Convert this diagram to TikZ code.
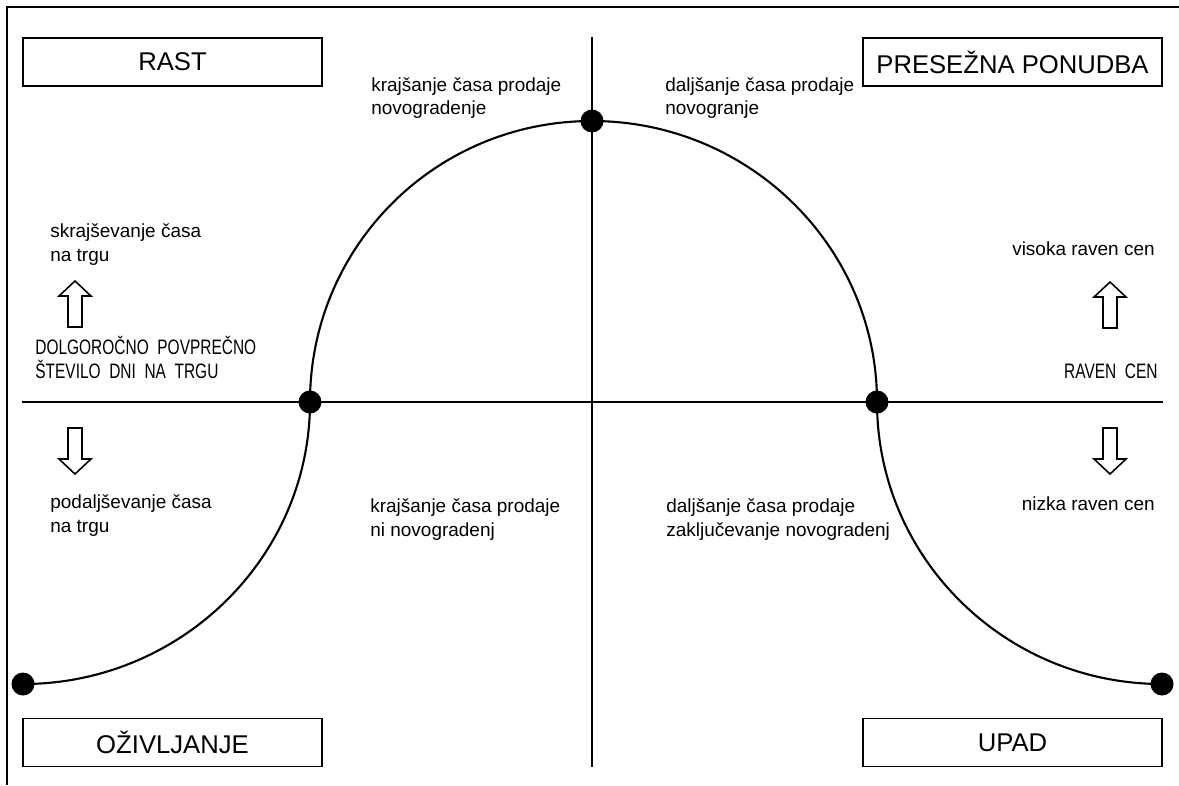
\documentclass[tikz,border=0pt]{standalone}
\usepackage{fontspec}
\setmainfont{Liberation Sans}
\newfontfamily\cadfont[FakeStretch=0.74]{Liberation Sans}
\usepackage{tikz}
\usetikzlibrary{positioning}

\begin{document}
\begin{tikzpicture}[
  x=0.02cm, y=-0.02cm,
  phase/.style={draw, line width=0.7pt, minimum width=5.98cm, minimum height=0.96cm,
                inner sep=0pt, font=\fontsize{14.6}{16}\selectfont},
  note/.style={align=left, inner sep=0pt, font=\fontsize{10.8}{13.6}\selectfont},
  cad/.style={align=left, inner sep=0pt, font=\cadfont\fontsize{11.9}{13.6}\selectfont},
  dot/.style={circle, fill=black, inner sep=0pt, minimum size=0.46cm},
  axis/.style={line width=0.7pt},
  curve/.style={line width=1.2pt},
  frame/.style={line width=1.7pt},
  hollow/.pic={\draw[line width=0.9pt, line join=miter]
    (0,0) -- (16,15) -- (7,15) -- (7,46) -- (-7,46) -- (-7,15) -- (-16,15) -- cycle;}
]
\useasboundingbox (0,0) rectangle (1179,785);

\draw[frame] (7,785) -- (7,7) -- (1179,7);

% phase boxes
\foreach \x/\y/\nm/\lbl in {172.5/62/rast/RAST, 1012.5/62/ponudba/PRESEŽNA PONUDBA,
                           172.5/742.5/ozivljanje/OŽIVLJANJE, 1012.5/742.5/upad/UPAD}{
  \node[phase] (\nm) at (\x,\y) {\lbl};
}

% points of the cycle
\node[dot] (d1) at (23,684) {};
\node[dot] (d2) at (310,402) {};
\node[dot] (d3) at (592,121) {};
\node[dot] (d4) at (877,402) {};
\node[dot] (d5) at (1162,684) {};

\draw[axis] (rast.west |- d2) -- (ponudba.east |- d2);
\draw[axis] (d3 |- rast.north) -- (d3 |- ozivljanje.south);

\draw[curve] (d1.center) .. controls +(157,0) and +(0,156) .. (d2.center)
                         .. controls +(0,-155) and +(-157,0) .. (d3.center)
                         .. controls +(157,0) and +(0,-155) .. (d4.center)
                         .. controls +(0,156) and +(-157,0) .. (d5.center);

% texts (base = last line)
\node[note, anchor=base west, font=\fontsize{10.8}{13}\selectfont] (topl) at (371,114) {krajšanje časa prodaje\\novogradenje};
\node[note, anchor=base west, font=\fontsize{10.8}{13}\selectfont] (topr) at (665,114) {daljšanje časa prodaje\\novogranje};
\node[note, anchor=base west] (botl) at (370,536) {krajšanje časa prodaje\\ni novogradenj};
\node[note, anchor=base west] (botr) at (666,536) {daljšanje časa prodaje\\zaključevanje novogradenj};
\node[note, anchor=base west] (shorter) at (50,261) {skrajševanje časa\\na trgu};
\node[note, anchor=base west] (longer) at (50,532) {podaljševanje časa\\na trgu};
\node[note, anchor=base east] (high) at (1155,255) {visoka raven cen};
\node[note, anchor=base east] (low) at (1155,510) {nizka raven cen};
\node[cad, anchor=base west] (days) at (35,378) {DOLGOROČNO~~POVPREČNO\\ŠTEVILO~~DNI~~NA~~TRGU};
\node[cad, anchor=base east] (price) at (1158,378) {RAVEN~~CEN};

% hollow arrows
\pic at (75,281) {hollow};
\pic[rotate=180] at (75,474) {hollow};
\pic at (1110,282) {hollow};
\pic[rotate=180] at (1110,474) {hollow};

\end{tikzpicture}
\end{document}
